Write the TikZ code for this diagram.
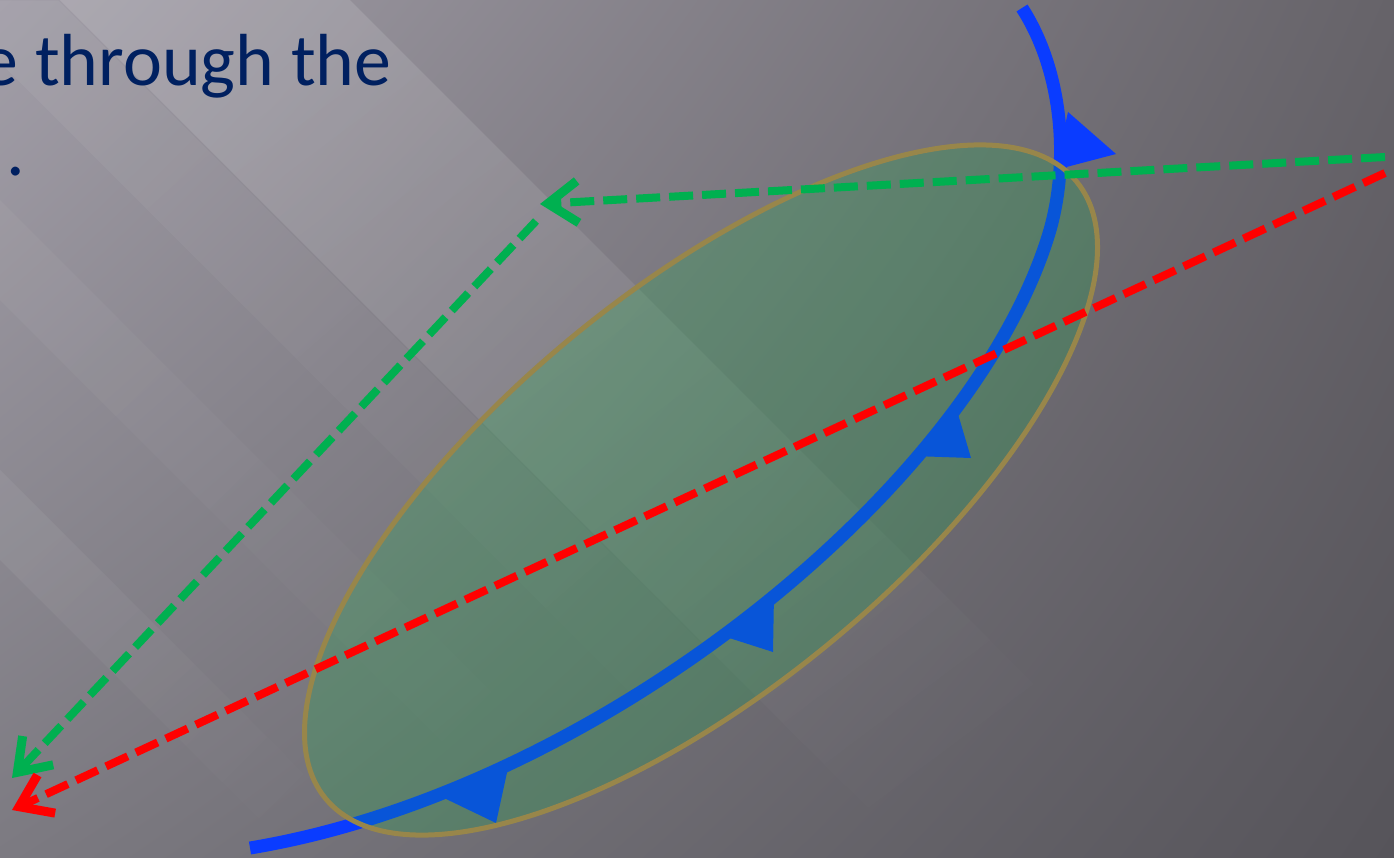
\documentclass[tikz,border=0pt]{standalone}
\usepackage{fontspec}
\setmainfont{Carlito}
\usetikzlibrary{arrows.meta,fadings,shadings}
\definecolor{bgtl}{RGB}{162,158,168}
\definecolor{bgtr}{RGB}{102,99,105}
\definecolor{bgbl}{RGB}{124,122,129}
\definecolor{bgbr}{RGB}{86,84,90}
\definecolor{loopblue}{RGB}{10,60,255}
\definecolor{surfgreen}{RGB}{0,189,60}
\definecolor{surfgold}{RGB}{152,134,74}
\definecolor{fluxgreen}{RGB}{0,176,80}
\definecolor{fluxred}{RGB}{255,0,0}
\definecolor{titleblue}{RGB}{0,32,96}
\tikzfading[name=bandfade, left color=transparent!0, right color=transparent!100]

\begin{document}
\begin{tikzpicture}
	[x=0.1mm,y=-0.1mm,
	band/.style={fill=white,path fading=bandfade,fading angle=-45},
	loopline/.style={draw=loopblue,line width=1.3mm},
	looptip/.style={fill=loopblue},
	surface/.style={fill=surfgreen,fill opacity=0.2,draw=surfgold,line width=0.5mm},
	flux/.style={line width=0.8mm,dash pattern=on 2.4mm off 0.9mm,
		-{Straight Barb[length=3mm,width=4.2mm,line width=0.9mm]}},
	every node/.style={inner sep=0pt,text=titleblue,font=\fontsize{21}{25}\selectfont}]
	\useasboundingbox (0,0) rectangle (1394,857);
	\clip (0,0) rectangle (1394,857);
	% background
	\shade[upper left=bgtl,upper right=bgtr,lower left=bgbl,lower right=bgbr]
		(0,0) rectangle (1394,857);
	\fill[band,opacity=0.13] (60,0) -- (350,0) -- (1207,857) -- (917,857) -- cycle;
	\fill[band,opacity=0.05] (-60,0) -- (60,0) -- (917,857) -- (797,857) -- cycle;
	\fill[band,opacity=0.06] (0,470) -- (0,560) -- (297,857) -- (387,857) -- cycle;
	\fill[band,opacity=0.04] (0,200) -- (0,300) -- (557,857) -- (657,857) -- cycle;
	% text
	\node[anchor=base east] (line1) at (392,86) {e through the};
	\node[anchor=base west] (line2) at (6,176) {.};
	% current loop
	\draw[loopline] (250,848) .. controls (600,790) and (975,485) .. (1050,230)
		.. controls (1070,159) and (1062,70) .. (1022,8);
	\fill[looptip] (444,798) -- (508,768) -- (496,823) -- cycle;
	\fill[looptip] (723,636) -- (774,593) -- (773,652) -- cycle;
	\fill[looptip] (913,456) -- (955,404) -- (971,458) -- cycle;
	\fill[looptip] (1068,112) -- (1116,154) -- (1055,170) -- cycle;
	% surface
	\draw[surface,rotate around={39.4:(701,490)}] (701,490) ellipse [x radius=48.6mm,y radius=20mm];
	% field lines
	\coordinate (gstart) at (1385,157);
	\coordinate (gmid) at (540,204);
	\coordinate (gturn) at (536,221);
	\coordinate (gend) at (12,778);
	\coordinate (rstart) at (1385,173);
	\coordinate (rend) at (12,810);
	\draw[flux,draw=fluxgreen] (gstart) -- (gmid);
	\draw[flux,draw=fluxgreen] (gturn) -- (gend);
	\draw[flux,draw=fluxred] (rstart) -- (rend);
\end{tikzpicture}
\end{document}
